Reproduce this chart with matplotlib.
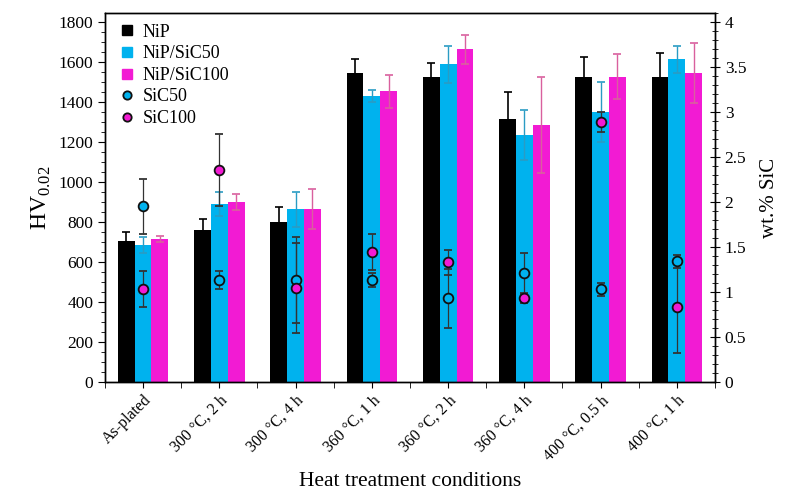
import matplotlib
matplotlib.use("Agg")
import matplotlib.pyplot as plt
import numpy as np
from matplotlib.lines import Line2D
from matplotlib.ticker import MultipleLocator, FixedLocator

plt.rcParams['font.family'] = ['Liberation Serif', 'DejaVu Serif']
plt.rcParams['mathtext.fontset'] = 'custom'
plt.rcParams['mathtext.rm'] = 'Liberation Serif'

categories = ["As-plated", "300 °C, 2 h", "300 °C, 4 h", "360 °C, 1 h",
              "360 °C, 2 h", "360 °C, 4 h", "400 °C, 0.5 h", "400 °C, 1 h"]

nip = [705, 758, 802, 1543, 1523, 1315, 1523, 1527]
nip_err = [45, 55, 73, 70, 73, 135, 103, 120]
nip_sic50 = [685, 888, 863, 1430, 1588, 1235, 1352, 1613]
nip_sic50_err = [40, 60, 87, 30, 94, 125, 150, 67]
nip_sic100 = [717, 902, 863, 1453, 1663, 1285, 1527, 1547]
nip_sic100_err = [15, 40, 100, 82, 72, 238, 112, 150]

sic50 = [1.95, 1.13, 1.13, 1.13, 0.93, 1.21, 1.03, 1.34]
sic50_err = [0.31, 0.10, 0.48, 0.08, 0.33, 0.22, 0.07, 0.07]
sic100 = [1.03, 2.36, 1.04, 1.44, 1.33, 0.93, 2.89, 0.83]
sic100_err = [0.20, 0.40, 0.50, 0.20, 0.14, 0.05, 0.11, 0.51]

c_black = '#000000'
c_blue = '#00B2EE'
c_mag = '#F21BD3'

fig = plt.figure(figsize=(7.87, 4.93), dpi=100)
ax = fig.add_axes([0.1334, 0.2252, 0.7751, 0.7484])
ax2 = ax.twinx()

x = np.arange(len(categories))
w = 0.22

ax.bar(x - w, nip, w, color=c_black, zorder=2)
ax.bar(x, nip_sic50, w, color=c_blue, zorder=2)
ax.bar(x + w, nip_sic100, w, color=c_mag, zorder=2)
ax.errorbar(x - w, nip, yerr=nip_err, fmt='none', ecolor='#000000',
            elinewidth=1.2, capsize=3, capthick=1.2, zorder=3)
ax.errorbar(x, nip_sic50, yerr=nip_sic50_err, fmt='none', ecolor='#2A9CC4',
            elinewidth=1.0, capsize=3, capthick=1.2, zorder=3)
ax.errorbar(x + w, nip_sic100, yerr=nip_sic100_err, fmt='none', ecolor='#D9609E',
            elinewidth=1.0, capsize=3, capthick=1.2, zorder=3)

ax2.errorbar(x, sic50, yerr=sic50_err, fmt='o', color='#333333',
             markerfacecolor=c_blue, markeredgecolor='#111111', markeredgewidth=1.3,
             markersize=7, elinewidth=0.9, capsize=3, capthick=0.9, zorder=4)
ax2.errorbar(x, sic100, yerr=sic100_err, fmt='o', color='#333333',
             markerfacecolor=c_mag, markeredgecolor='#111111', markeredgewidth=1.3,
             markersize=7, elinewidth=0.9, capsize=3, capthick=0.9, zorder=4)

ax.set_xlim(-0.5, len(categories) - 0.5)
ax.set_ylim(0, 1845)
ax2.set_ylim(0, 4.1)

ax.yaxis.set_major_locator(MultipleLocator(200))
ax.yaxis.set_minor_locator(MultipleLocator(50))
ax2.yaxis.set_major_locator(MultipleLocator(0.5))
ax2.yaxis.set_minor_locator(MultipleLocator(0.1))
ax2.set_yticks([0, 0.5, 1, 1.5, 2, 2.5, 3, 3.5, 4])
ax2.set_yticklabels(['0', '0.5', '1', '1.5', '2', '2.5', '3', '3.5', '4'])

ax.set_xticks(x)
ax.set_xticklabels(categories, rotation=45, ha='right', rotation_mode='anchor', fontsize=11.5)
ax.xaxis.set_minor_locator(FixedLocator(np.arange(-0.5, len(categories), 1.0)))

ax.tick_params(axis='y', which='major', direction='out', length=5, labelsize=12.5)
ax.tick_params(axis='y', which='minor', direction='out', length=3)
ax.tick_params(axis='x', which='major', direction='out', length=4)
ax.tick_params(axis='x', which='minor', direction='out', length=4)
ax2.tick_params(axis='y', which='major', direction='inout', length=7, labelsize=12.5)
ax2.tick_params(axis='y', which='minor', direction='inout', length=4)

for a in (ax, ax2):
    for s in a.spines.values():
        s.set_linewidth(1.0)

ax.set_ylabel('HV$_{0.02}$', fontsize=17, labelpad=4)
ax2.set_ylabel('wt.% SiC', fontsize=15, labelpad=10)
ax.set_xlabel('Heat treatment conditions', fontsize=15.5, labelpad=6)

handles = [
    Line2D([], [], marker='s', linestyle='none', color=c_black, markersize=7),
    Line2D([], [], marker='s', linestyle='none', color=c_blue, markersize=7),
    Line2D([], [], marker='s', linestyle='none', color=c_mag, markersize=7),
    Line2D([], [], marker='o', linestyle='none', markerfacecolor=c_blue,
           markeredgecolor='#111111', markeredgewidth=1.3, markersize=6),
    Line2D([], [], marker='o', linestyle='none', markerfacecolor=c_mag,
           markeredgecolor='#111111', markeredgewidth=1.3, markersize=6),
]
labels = ['NiP', 'NiP/SiC50', 'NiP/SiC100', 'SiC50', 'SiC100']
leg = ax2.legend(handles, labels, loc='upper left', frameon=False, fontsize=13,
                 handlelength=0.8, handletextpad=0.5, labelspacing=0.25,
                 bbox_to_anchor=(0.003, 1.005), borderaxespad=0.3)

fig.savefig('out.png', dpi=100)
